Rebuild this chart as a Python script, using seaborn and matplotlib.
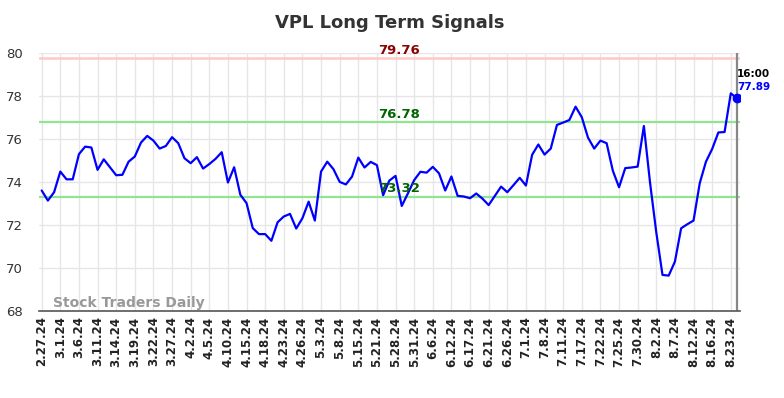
import numpy as np
import pandas as pd
import matplotlib
matplotlib.use('Agg')
import matplotlib.pyplot as plt
import seaborn as sns

# tick dates (every 3rd point)
tick_labels = ['2.27.24', '3.1.24', '3.6.24', '3.11.24', '3.14.24', '3.19.24', '3.22.24',
               '3.27.24', '4.2.24', '4.5.24', '4.10.24', '4.15.24', '4.18.24', '4.23.24',
               '4.26.24', '5.3.24', '5.8.24', '5.15.24', '5.21.24', '5.28.24', '5.31.24',
               '6.6.24', '6.12.24', '6.17.24', '6.21.24', '6.26.24', '7.1.24', '7.8.24',
               '7.11.24', '7.17.24', '7.22.24', '7.25.24', '7.30.24', '8.2.24', '8.7.24',
               '8.12.24', '8.16.24', '8.23.24']

# closing prices (last one is the 16:00 print)
prices = [73.60, 73.13, 73.52, 74.48, 74.12, 74.12, 75.29, 75.64, 75.60, 74.56,
          75.05, 74.68, 74.31, 74.33, 74.94, 75.18, 75.83, 76.14, 75.92, 75.55,
          75.67, 76.08, 75.80, 75.10, 74.87, 75.15, 74.62, 74.83, 75.07, 75.38,
          73.97, 74.68, 73.40, 73.01, 71.85, 71.57, 71.57, 71.26, 72.12, 72.39,
          72.51, 71.83, 72.31, 73.08, 72.20, 74.48, 74.94, 74.59, 74.00, 73.88,
          74.25, 75.13, 74.67, 74.93, 74.78, 73.38, 74.06, 74.28, 72.88, 73.47,
          74.08, 74.47, 74.43, 74.70, 74.40, 73.60, 74.25, 73.35, 73.32, 73.24,
          73.46, 73.22, 72.92, 73.35, 73.78, 73.52, 73.85, 74.19, 73.83, 75.26,
          75.74, 75.27, 75.55, 76.65, 76.76, 76.88, 77.50, 77.01, 76.06, 75.55,
          75.92, 75.80, 74.52, 73.75, 74.64, 74.67, 74.71, 76.60, 73.95, 71.65,
          69.67, 69.64, 70.29, 71.84, 72.03, 72.20, 73.94, 74.94, 75.53, 76.30,
          76.32, 78.12, 77.89]

resistance = 79.76
upper = 76.78
lower = 73.32

df = pd.DataFrame({'i': np.arange(len(prices)), 'price': prices})

sns.set_style('whitegrid')
plt.rcParams['font.family'] = ['DejaVu Sans']

fig = plt.figure(figsize=(7.84, 3.98), dpi=100)
ax = fig.add_axes([0.050, 0.219, 0.894, 0.648])

ax.axhline(resistance, color='#ffc8c8', lw=1.8, zorder=1)
ax.axhline(upper, color='#90e690', lw=1.6, zorder=1)
ax.axhline(lower, color='#90e690', lw=1.6, zorder=1)

sns.lineplot(data=df, x='i', y='price', color='#0000ff', lw=1.6, ax=ax, zorder=3)
last = len(prices) - 1
ax.plot(last, prices[-1], 'o', color='#0000ff', ms=6, zorder=4)
ax.axvline(last, color='#888888', lw=1.6, zorder=2)

mid = 57.6
ax.text(mid, resistance + 0.05, f'{resistance:.2f}', color='#8b0000', fontsize=9.5,
        fontweight='bold', ha='center', va='bottom')
ax.text(mid, upper + 0.05, f'{upper:.2f}', color='#006400', fontsize=9.5,
        fontweight='bold', ha='center', va='bottom')
ax.text(mid, lower + 0.05, f'{lower:.2f}', color='#006400', fontsize=9.5,
        fontweight='bold', ha='center', va='bottom')
ax.text(last, 79.02, '16:00', color='black', fontsize=7.5, fontweight='bold',
        ha='left', va='center')
ax.text(last, 78.4, f'{prices[-1]:.2f}', color='#0000ff', fontsize=7.5,
        fontweight='bold', ha='left', va='center')

ax.text(0.02, 0.005, 'Stock Traders Daily', transform=ax.transAxes, color='#999999',
        fontsize=10, fontweight='bold', ha='left', va='bottom')

ax.set_xlim(-0.4, 112.5)
ax.set_ylim(68, 80)
ax.set_xticks(np.arange(0, len(tick_labels) * 3, 3))
ax.set_xticklabels(tick_labels, rotation=90, fontsize=8.5, fontweight='bold', color='#222222')
ax.set_yticks(np.arange(68, 81, 2))
ax.tick_params(axis='y', labelsize=9.5, colors='#333333', length=0, pad=12)
ax.tick_params(axis='x', length=0, pad=4)
ax.set_xlabel('')
ax.set_ylabel('')
ax.grid(True, color='#e6e6e6', lw=1)

for s in ['left', 'right', 'top']:
    ax.spines[s].set_visible(False)
ax.spines['bottom'].set_color('#555555')
ax.spines['bottom'].set_linewidth(1.2)

ax.set_title('VPL Long Term Signals', fontsize=13, fontweight='bold', color='#333333', pad=18)

fig.savefig('out.png', dpi=100)
